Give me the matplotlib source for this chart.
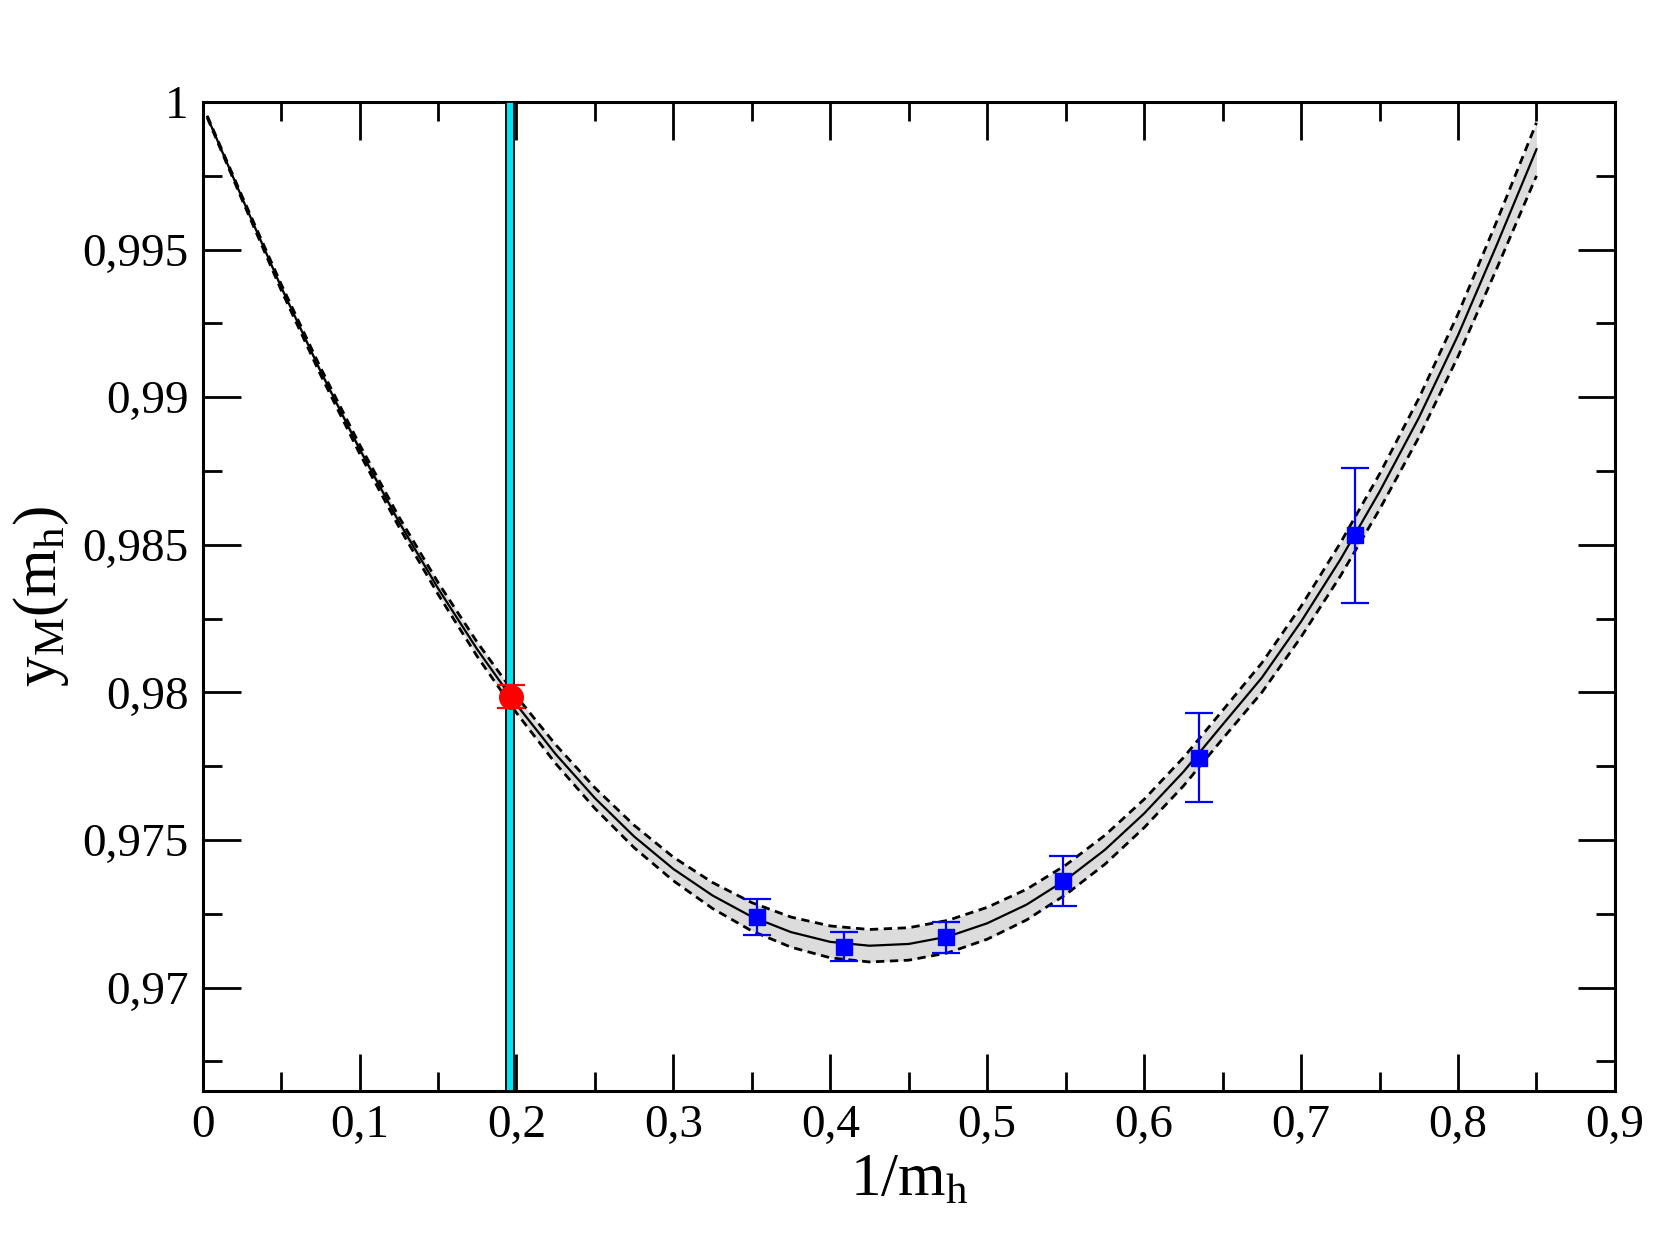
import numpy as np
import matplotlib
matplotlib.use('Agg')
import matplotlib.pyplot as plt
from matplotlib.ticker import MultipleLocator, FuncFormatter

plt.rcParams['font.family'] = 'Liberation Serif'
plt.rcParams['mathtext.fontset'] = 'custom'
plt.rcParams['mathtext.rm'] = 'Liberation Serif'
plt.rcParams['mathtext.it'] = 'Liberation Serif'

# fit curve
fit_x = [0.003, 0.025, 0.05, 0.075, 0.10, 0.125, 0.15, 0.175, 0.20, 0.225,
         0.25, 0.275, 0.30, 0.325, 0.35, 0.375, 0.40, 0.425, 0.45, 0.475,
         0.50, 0.525, 0.55, 0.575, 0.60, 0.625, 0.65, 0.675, 0.70, 0.725,
         0.75, 0.775, 0.80, 0.825, 0.85]
fit_y = [0.9995, 0.99677, 0.99374, 0.9909, 0.98825, 0.98579, 0.98353, 0.98146, 0.97959, 0.97791,
         0.97642, 0.97512, 0.97402, 0.97312, 0.9724, 0.97188, 0.97155, 0.97142, 0.97148, 0.97173,
         0.97218, 0.97281, 0.97365, 0.97467, 0.9759, 0.97731, 0.97891, 0.9805, 0.9824, 0.9845,
         0.9868, 0.9893, 0.9921, 0.9952, 0.9984]
fit_err = [0.00003, 0.00006, 0.0001, 0.00012, 0.00015, 0.00017, 0.0002, 0.00024, 0.00028, 0.00032,
           0.00035, 0.00038, 0.0004, 0.00044, 0.00048, 0.00051, 0.00054, 0.00055, 0.00055, 0.00055,
           0.00054, 0.00052, 0.0005, 0.00049, 0.00048, 0.00048, 0.00048, 0.0005, 0.00052, 0.00056,
           0.0006, 0.00066, 0.00072, 0.0008, 0.0009]

# lattice points
data_x = [0.3531, 0.409, 0.4735, 0.5482, 0.635, 0.7345]
data_y = [0.97239, 0.97139, 0.97171, 0.97361, 0.97779, 0.98532]
data_err = [0.00062, 0.00048, 0.00052, 0.00084, 0.0015, 0.00229]

# extrapolated point
phys_x = [0.1964]
phys_y = [0.97986]
phys_err = [0.0004]

band_lo, band_hi = 0.1935, 0.1985

fx = np.array(fit_x)
fy = np.array(fit_y)
fe = np.array(fit_err)

fig = plt.figure(figsize=(16.55, 12.4), dpi=100)
ax = fig.add_axes([0.1224, 0.1202, 0.8534, 0.7975])

ax.fill_between(fx, fy - fe, fy + fe, color='#dcdcdc', lw=0, zorder=1)
ax.plot(fx, fy, color='black', lw=1.6, zorder=2)
ax.plot(fx, fy + fe, color='black', lw=2, ls=(0, (3, 2)), zorder=2)
ax.plot(fx, fy - fe, color='black', lw=2, ls=(0, (3, 2)), zorder=2)

ax.axvspan(band_lo, band_hi, facecolor='#00e5ee', edgecolor='black', lw=1.3, zorder=3)

ax.errorbar(data_x, data_y, yerr=data_err, fmt='s', color='blue', ms=11,
            capsize=10, elinewidth=1.6, capthick=1.6, zorder=4)
ax.errorbar(phys_x, phys_y, yerr=phys_err, fmt='o', color='red', ms=17,
            capsize=10, elinewidth=1.6, capthick=1.6, zorder=5)

ax.set_xlim(0, 0.9)
ax.set_ylim(0.9665, 1.0)
ax.xaxis.set_major_locator(MultipleLocator(0.1))
ax.xaxis.set_minor_locator(MultipleLocator(0.05))
ax.yaxis.set_major_locator(MultipleLocator(0.005))
ax.yaxis.set_minor_locator(MultipleLocator(0.0025))

fmt = FuncFormatter(lambda v, p: ('%g' % round(v, 4)).replace('.', ','))
ax.xaxis.set_major_formatter(fmt)
ax.yaxis.set_major_formatter(fmt)

ax.tick_params(which='both', direction='in', top=True, right=True, width=2)
ax.tick_params(which='major', length=27, labelsize=34, pad=10)
ax.tick_params(which='minor', length=14)
for s in ax.spines.values():
    s.set_linewidth(2.2)

ax.set_xlabel(r'$\mathrm{1/m_h}$', fontsize=44, labelpad=4)
ax.set_ylabel(r'$\mathrm{y_M(m_h)}$', fontsize=44, labelpad=8)

plt.savefig('out.png', dpi=100)
